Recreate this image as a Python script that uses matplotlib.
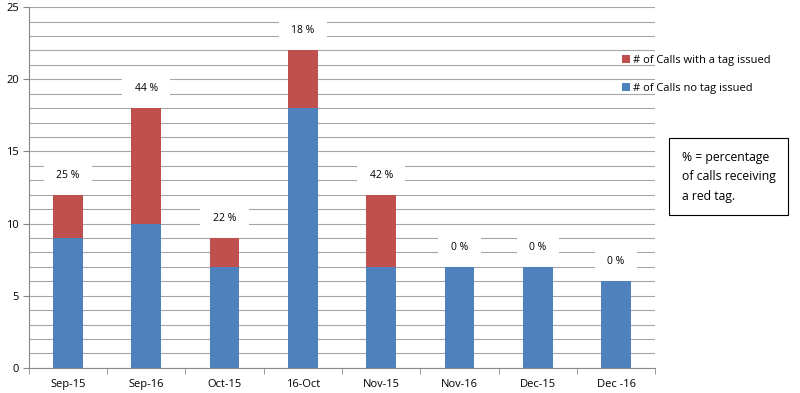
import matplotlib.pyplot as plt
import numpy as np

# ─────────────────────────────────────────────
#  Data
# ─────────────────────────────────────────────
months = ["Sep-15", "Sep-16", "Oct-15", "16-Oct", "Nov-15", "Nov-16", "Dec-15", "Dec -16"]
no_tag = [9, 10, 7, 18, 7, 7, 7, 6]
with_tag = [3, 8, 2, 4, 5, 0, 0, 0]
pct_labels = ["25 %", "44 %", "22 %", "18 %", "42 %", "0 %", "0 %", "0 %"]

RED = "#C0504D"
BLUE = "#4F81BD"

plt.rcParams["font.family"] = ["Open Sans", "DejaVu Sans"]

fig = plt.figure(figsize=(8, 3.93), dpi=100)
ax = fig.add_axes([0.036, 0.064, 0.783, 0.918])

x = np.arange(len(months))
ax.bar(x, no_tag, width=0.38, color=BLUE, zorder=3, label="# of Calls no tag issued")
ax.bar(x, with_tag, width=0.38, bottom=no_tag, color=RED, zorder=3,
       label="# of Calls with a tag issued")

# percentage labels with white background boxes
for xi, a, b, lab in zip(x, no_tag, with_tag, pct_labels):
    ax.text(xi, a + b + 1.35, lab, ha="center", va="center", fontsize=7.5, zorder=4,
            bbox=dict(facecolor="white", edgecolor="none", pad=9))

ax.set_xlim(-0.5, len(months) - 0.5)
ax.set_ylim(0, 25)
ax.set_yticks(range(0, 26, 5))
ax.set_yticks(range(0, 26), minor=True)
ax.set_xticks(x)
ax.set_xticklabels(months)
ax.set_xticks(np.arange(-0.5, len(months)), minor=True)
ax.tick_params(axis="x", which="major", length=0, labelsize=8, pad=8)
ax.tick_params(axis="x", which="minor", length=4, color="#888888", direction="out")
ax.tick_params(axis="y", which="major", length=4, color="#888888", labelsize=8, pad=3)
ax.tick_params(axis="y", which="minor", length=0)

ax.grid(axis="y", which="both", color="#A6A6A6", linewidth=0.8, zorder=0)
for side in ["top", "right"]:
    ax.spines[side].set_visible(False)
for side in ["left", "bottom"]:
    ax.spines[side].set_color("#888888")

# legend, red first
handles, labels = ax.get_legend_handles_labels()
fig.legend(handles[::-1], labels[::-1], loc="upper left", bbox_to_anchor=(0.765, 0.885),
           frameon=False, fontsize=8, handlelength=0.7, handleheight=0.7,
           handletextpad=0.3, labelspacing=1.5)

# note box
fig.text(0.852, 0.55, "% = percentage\nof calls receiving\na red tag.", fontsize=8.8,
         va="center", ha="left", linespacing=1.65,
         bbox=dict(facecolor="white", edgecolor="black", linewidth=0.8, pad=9))

fig.savefig("out.png", dpi=100)
